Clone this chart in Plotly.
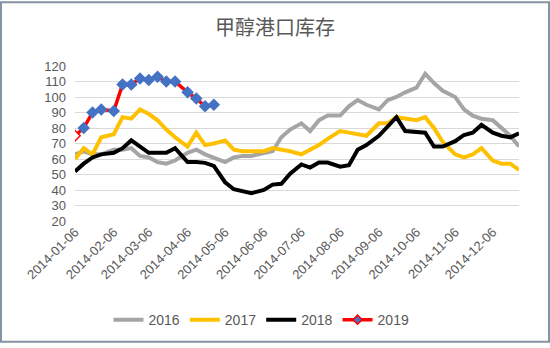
import plotly.graph_objects as go

dates = [
    "2014-01-06", "2014-01-13", "2014-01-20", "2014-01-27",
    "2014-02-06", "2014-02-13", "2014-02-20", "2014-02-27",
    "2014-03-06", "2014-03-13", "2014-03-20", "2014-03-27",
    "2014-04-06", "2014-04-13", "2014-04-20", "2014-04-27",
    "2014-05-06", "2014-05-13", "2014-05-20", "2014-05-27",
    "2014-06-06", "2014-06-13", "2014-06-20", "2014-06-27",
    "2014-07-06", "2014-07-13", "2014-07-20", "2014-07-27",
    "2014-08-06", "2014-08-13", "2014-08-20", "2014-08-27",
    "2014-09-06", "2014-09-13", "2014-09-20", "2014-09-27",
    "2014-10-06", "2014-10-13", "2014-10-20", "2014-10-27",
    "2014-11-06", "2014-11-13", "2014-11-20", "2014-11-27",
    "2014-12-06", "2014-12-13", "2014-12-20", "2014-12-27",
]

s2016 = [63, 65, 63, 63, 66, 66, 67, 62, 61, 58, 57, 59,
         64, 66, 63, 61, 58, 61, 62, 62, 64, 65, 74, 79,
         83, 78, 85, 88, 88, 94, 98, 95, 92, 98, 100, 103,
         106, 115, 109, 104, 100, 92, 88, 86, 85, 80, 75, 68]
s2017 = [60, 67, 63, 74, 76, 87, 86, 92, 89, 85, 79, 74,
         68, 77, 69, 70, 72, 66, 65, 65, 65, 67, 66, 65,
         63, 66, 69, 73, 78, 77, 76, 75, 83, 83, 87, 86,
         85, 87, 80, 71, 63, 61, 63, 67, 59, 57, 57, 53]
s2018 = [52, 57, 61, 63, 64, 67, 72, 68, 64, 64, 64, 67,
         58, 58, 57.5, 55.5, 45, 40.5, 39, 38, 40, 43.5, 44, 50.5,
         56.5, 54.5, 57.7, 57.7, 55, 56, 66, 69, 75, 81, 87, 78,
         77.5, 77, 68, 68, 71.5, 75.5, 77, 82, 77, 75, 74, 76.5]
s2019 = [75, 80, 90, 92, 91, 108, 108, 112, 111, 113, 110, 110,
         103, 99, 94, 95]

tick_vals = ["2014-01-06", "2014-02-06", "2014-03-06", "2014-04-06",
             "2014-05-06", "2014-06-06", "2014-07-06", "2014-08-06",
             "2014-09-06", "2014-10-06", "2014-11-06", "2014-12-06"]
tick_text = tick_vals
y_ticks = [20, 30, 40, 50, 60, 70, 80, 90, 100, 110, 120]

FONT_CJK = "Noto Sans CJK SC"
FONT = "Liberation Sans"
GRAY_TXT = "#595959"

fig = go.Figure()
fig.add_trace(go.Scatter(x=dates, y=s2016, name="2016", mode="lines",
                         line=dict(color="#a5a5a5", width=4)))
fig.add_trace(go.Scatter(x=dates, y=s2017, name="2017", mode="lines",
                         line=dict(color="#ffc000", width=4)))
fig.add_trace(go.Scatter(x=dates, y=s2018, name="2018", mode="lines",
                         line=dict(color="#000000", width=4)))

n19 = len(s2019)
fill19 = ["#ffffff"] + ["#4472c4"] * (n19 - 1)
edge19 = ["#ff0000"] + ["#4472c4"] * (n19 - 1)
fig.add_trace(go.Scatter(x=dates[:n19], y=s2019, name="2019", mode="lines+markers",
                         showlegend=False,
                         line=dict(color="#ff0000", width=3.5),
                         marker=dict(symbol="diamond", size=8, color=fill19,
                                     line=dict(color=edge19, width=1.5))))
fig.add_trace(go.Scatter(x=[None], y=[None], name="2019", mode="lines+markers",
                         line=dict(color="#ff0000", width=3.5),
                         marker=dict(symbol="diamond", size=7, color="#4472c4",
                                     line=dict(color="#ff0000", width=1.5))))

W, H = 550, 348
ml, mr, mt, mb = 75, 31, 66, 124
pw, ph = W - ml - mr, H - mt - mb

fig.update_layout(
    width=W, height=H,
    margin=dict(l=ml, r=mr, t=mt, b=mb),
    paper_bgcolor="white", plot_bgcolor="white",
    font=dict(family=FONT, color=GRAY_TXT, size=13),
    title=dict(text="甲醇港口库存", x=0.5, xanchor="center", y=1 - 28 / H,
               yanchor="middle", font=dict(size=20, color=GRAY_TXT, family=FONT_CJK)),
    xaxis=dict(type="date", range=["2014-01-06", "2014-12-27"],
               tickmode="array", tickvals=tick_vals, ticktext=tick_text,
               tickangle=-45, showgrid=False, zeroline=False, showline=False,
               ticks="", tickfont=dict(size=13, color=GRAY_TXT, family=FONT)),
    yaxis=dict(range=[20, 120], tickmode="array", tickvals=y_ticks,
               showgrid=True, gridcolor="#d9d9d9", gridwidth=1,
               zeroline=False, showline=False, ticks="", ticklabelstandoff=8,
               tickfont=dict(size=13, color=GRAY_TXT, family=FONT)),
    legend=dict(orientation="h", x=0.42, xanchor="center", y=-(325 - 224) / ph,
                yanchor="middle", font=dict(size=14, color=GRAY_TXT, family=FONT),
                itemwidth=30, tracegroupgap=0, bgcolor="rgba(0,0,0,0)"),
    showlegend=True,
    shapes=[dict(type="rect", xref="paper", yref="paper",
                 x0=-(ml - 1) / pw, x1=1 + (mr - 1) / pw,
                 y0=-(mb - 1) / ph, y1=1 + (mt - 1) / ph,
                 line=dict(color="#8494a4", width=2), fillcolor="rgba(0,0,0,0)",
                 layer="above")],
)

fig.write_html("out.html")
